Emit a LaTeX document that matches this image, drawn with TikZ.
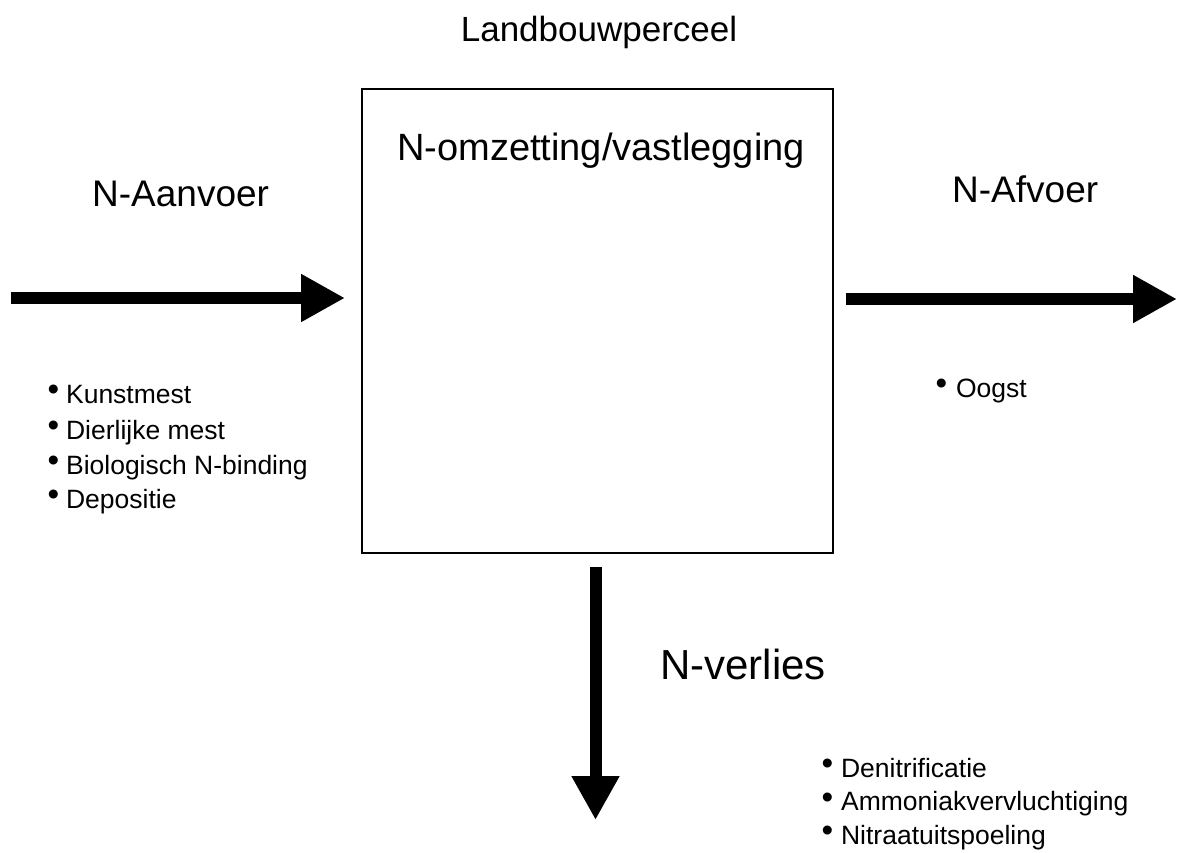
\documentclass[tikz,border=0pt]{standalone}
\usepackage{fontspec}
\setmainfont{Liberation Sans}
\usepackage{graphicx}
\usetikzlibrary{arrows.meta}

\tikzset{
  flow/.style={line width=12pt, draw=black,
    -{Triangle[length=44pt, width=45pt]}},
  plot/.style={draw=black, line width=1.4pt, fill=none, inner sep=0pt},
  heading/.style={inner sep=0pt, anchor=base west},
  item/.style={inner sep=0pt, anchor=base west, font=\fontsize{26.5}{30}\selectfont},
}
\newcommand{\bul}[1]{\raisebox{2.5pt}{\scalebox{1.25}{\textbullet}}\hspace{#1}}

\begin{document}
\begin{tikzpicture}[x=1pt, y=-1pt]
  \useasboundingbox (0,0) rectangle (1178,853);

  % the field plot
  \node[plot, minimum width=471pt, minimum height=464pt] (box) at (597.5,321) {};

  % titles
  \node[inner sep=0pt, anchor=base, font=\fontsize{35}{40}\selectfont]
    (title) at (599,42) {Landbouwperceel};
  \node[heading, font=\fontsize{38}{43}\selectfont]
    (conv) at (397,161) {N-omzetting/vastlegging};
  \node[heading, font=\fontsize{37}{42}\selectfont]
    (inlbl) at (92,207) {N-Aanvoer};
  \node[heading, font=\fontsize{37}{42}\selectfont]
    (outlbl) at (952,203) {N-Afvoer};
  \node[heading, font=\fontsize{42}{48}\selectfont]
    (losslbl) at (660,679) {N-verlies};

  % flows
  \coordinate (inA) at (11,298);
  \coordinate (inB) at (345,298);
  \coordinate (outA) at (846,299);
  \coordinate (outB) at (1177,299);
  \coordinate (lossA) at (595.5,567);
  \coordinate (lossB) at (595.5,820);
  \draw[flow] (inA) -- (inB);
  \draw[flow] (outA) -- (outB);
  \draw[flow] (lossA) -- (lossB);

  % supply items
  \node[item] (in1) at (47.3,403)   {\bul{7pt}Kunstmest};
  \node[item] (in2) at (47.3,439)   {\bul{7pt}Dierlijke mest};
  \node[item] (in3) at (47.3,474)   {\bul{7pt}Biologisch N-binding};
  \node[item] (in4) at (47.3,508)   {\bul{7pt}Depositie};

  % removal item
  \node[item] (out1) at (935.3,397) {\bul{9pt}Oogst};

  % loss items
  \node[item] (loss1) at (821.3,777) {\bul{8pt}Denitrificatie};
  \node[item] (loss2) at (821.3,810.5) {\bul{8pt}Ammoniakvervluchtiging};
  \node[item] (loss3) at (821.3,844) {\bul{8pt}Nitraatuitspoeling};
\end{tikzpicture}
\end{document}
